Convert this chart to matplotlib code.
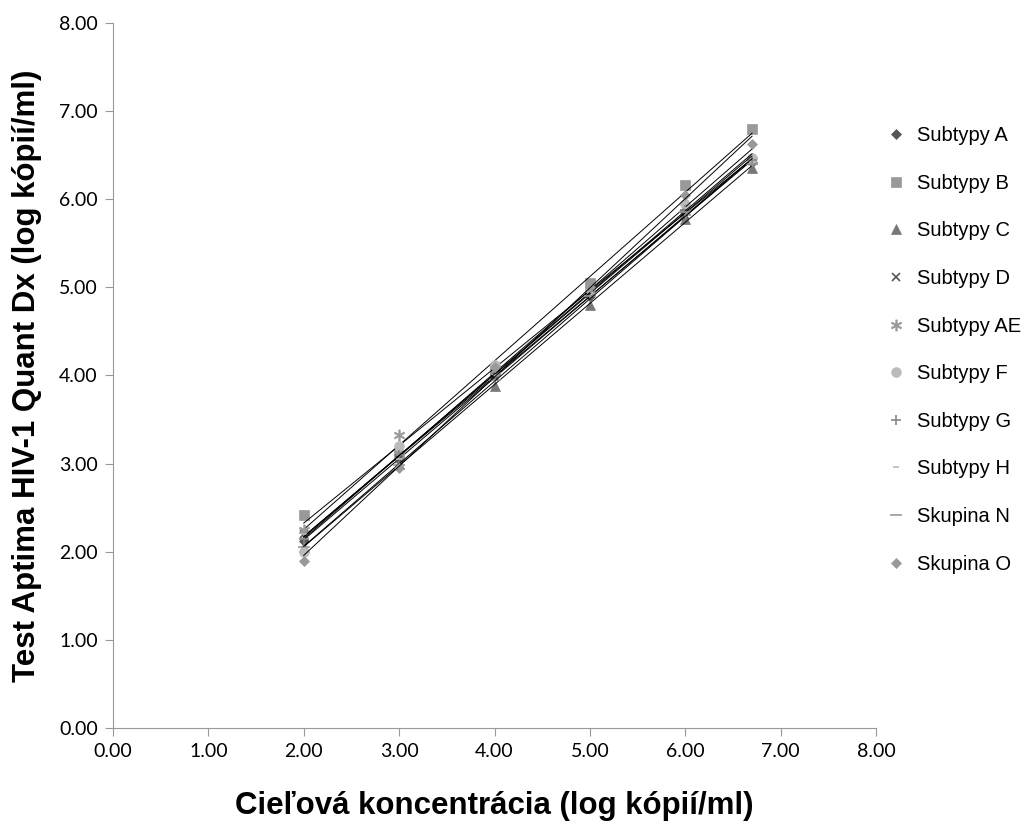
import numpy as np
import matplotlib.pyplot as plt

plt.rcParams['font.family'] = ['Liberation Sans', 'DejaVu Sans']

# target concentration (log copies/ml)
x_vals = [2.0, 3.0, 4.0, 5.0, 6.0, 6.7]

names = ["Subtypy A", "Subtypy B", "Subtypy C", "Subtypy D", "Subtypy AE",
         "Subtypy F", "Subtypy G", "Subtypy H", "Skupina N", "Skupina O"]

sub_a = [2.12, 3.05, 4.00, 4.90, 5.85, 6.42]
sub_b = [2.42, 3.10, 4.05, 5.05, 6.16, 6.80]
sub_c = [2.05, 3.00, 3.88, 4.80, 5.78, 6.36]
sub_d = [2.20, 3.05, 3.98, 4.92, 5.82, 6.43]
sub_ae = [2.25, 3.33, 4.05, 4.95, 5.85, 6.45]
sub_f = [2.00, 3.20, 4.12, 4.98, 5.95, 6.47]
sub_g = [2.15, 3.10, 4.02, 4.95, 5.88, 6.45]
sub_h = [2.20, 3.05, 4.00, 4.95, 5.90, 6.50]
grp_n = [2.05, 2.98, 3.95, 4.90, 5.85, 6.40]
grp_o = [1.90, 2.95, 4.10, 5.00, 6.05, 6.63]

series = [sub_a, sub_b, sub_c, sub_d, sub_ae, sub_f, sub_g, sub_h, grp_n, grp_o]

# marker styles: (marker, color, size)
styles = [("D", "#555555", 5.5),
          ("s", "#999999", 7),
          ("^", "#777777", 7),
          ("x", "#555555", 6),
          ("$\\ast$", "#999999", 8),
          ("o", "#bbbbbb", 7),
          ("+", "#888888", 7),
          ("_", "#bbbbbb", 5),
          ("_", "#999999", 9),
          ("D", "#999999", 5.5)]

fig = plt.figure(figsize=(10.31, 8.27), dpi=100)
ax = fig.add_axes([0.1096, 0.1197, 0.7401, 0.8525])

xs = np.array(x_vals)
for name, ys, (m, c, s) in zip(names, series, styles):
    ax.plot(xs, ys, linestyle="none", marker=m, color=c, markersize=s,
            markeredgewidth=1.2 if m in ("x", "+", "_") else 0.5, label=name)
    # linear trend line
    k, b = np.polyfit(xs, ys, 1)
    ax.plot(xs[[0, -1]], k * xs[[0, -1]] + b, color="black", linewidth=0.7)

ax.set_xlim(0, 8)
ax.set_ylim(0, 8)
ticks = np.arange(0, 9, 1)
ax.set_xticks(ticks)
ax.set_yticks(ticks)
ax.set_xticklabels(["%.2f" % t for t in ticks], fontsize=14, family="Lato")
ax.set_yticklabels(["%.2f" % t for t in ticks], fontsize=14, family="Lato")
for sp in ["top", "right"]:
    ax.spines[sp].set_visible(False)
for sp in ["left", "bottom"]:
    ax.spines[sp].set_color("#999999")
ax.tick_params(axis="both", direction="out", length=6, color="#999999", pad=5)

ax.set_xlabel("Cieľová koncentrácia (log kópií/ml)", fontsize=22.5,
              fontweight="bold", labelpad=22)
ax.set_ylabel("Test Aptima HIV-1 Quant Dx (log kópií/ml)", fontsize=22.5,
              fontweight="bold", labelpad=12)

handles, labels = ax.get_legend_handles_labels()
ax.legend(handles, labels, loc="upper left", bbox_to_anchor=(1.002, 0.865),
          frameon=False, fontsize=14.5, labelspacing=1.42, handletextpad=0.55,
          handlelength=1.0, borderaxespad=0)

fig.savefig("out.png", dpi=100)
